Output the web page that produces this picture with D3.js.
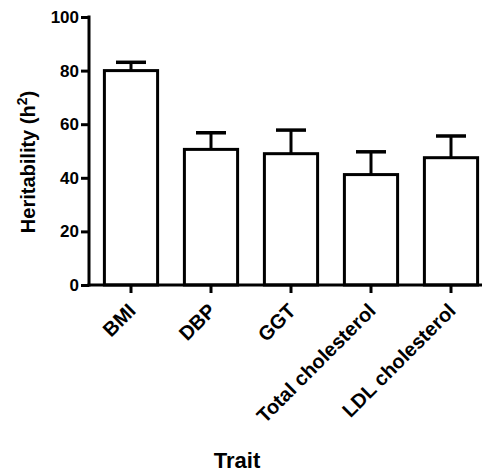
<!DOCTYPE html>
<html>
<head>
<meta charset="utf-8">
<script src="https://cdn.jsdelivr.net/npm/d3@7"></script>
<style>
  body { margin: 0; background: #fff; }
  text { font-family: Arial, "Liberation Sans", sans-serif; font-weight: bold; fill: #000; }
</style>
</head>
<body>
<div class="chart"></div>
<script>
let traits = ["BMI", "DBP", "GGT", "Total cholesterol", "LDL cholesterol"];
let heritability = [80, 50.6, 49, 41.2, 47.5];
let upperError = [83.1, 56.8, 57.8, 49.7, 55.6];
let yTicks = [0, 20, 40, 60, 80, 100];

let svgWidth = 482;
let svgHeight = 474;

let svg = d3.select(".chart")
  .append("svg")
  .attr("width", svgWidth)
  .attr("height", svgHeight);

let x = d3.scaleBand()
  .domain(traits)
  .range([91, 491])
  .paddingInner(0.335)
  .paddingOuter(0.1675);

let y = d3.scaleLinear()
  .domain([0, 100])
  .range([285, 17]);

let axisX = 89;

// bars
svg.selectAll("rect.bar")
  .data(traits)
  .enter().append("rect")
    .attr("class", "bar")
    .attr("x", d => x(d))
    .attr("y", (d, i) => y(heritability[i]))
    .attr("width", x.bandwidth())
    .attr("height", (d, i) => y(0) - y(heritability[i]))
    .attr("fill", "#fff")
    .attr("stroke", "#000")
    .attr("stroke-width", 3);

// error bars (upper only)
let capW = 30;
traits.forEach(function(t, i) {
  let cx = x(t) + x.bandwidth() / 2;
  svg.append("line")
    .attr("x1", cx).attr("x2", cx)
    .attr("y1", y(heritability[i])).attr("y2", y(upperError[i]))
    .attr("stroke", "#000").attr("stroke-width", 3);
  svg.append("line")
    .attr("x1", cx - capW / 2).attr("x2", cx + capW / 2)
    .attr("y1", y(upperError[i])).attr("y2", y(upperError[i]))
    .attr("stroke", "#000").attr("stroke-width", 3.5);
});

// x axis
let gx = svg.append("g")
  .attr("transform", `translate(0, ${y(0)})`)
  .call(d3.axisBottom(x).tickSize(8).tickSizeOuter(0));
gx.select(".domain").attr("d", `M${axisX - 1.5},0H${svgWidth}`);
gx.selectAll("line, path").attr("stroke", "#000").attr("stroke-width", 3);
gx.selectAll("text")
  .attr("x", 0).attr("y", 0).attr("dy", 0)
  .attr("transform", "translate(6,27) rotate(-45)")
  .style("text-anchor", "end")
  .style("font-size", "20px");

// y axis
let gy = svg.append("g")
  .attr("transform", `translate(${axisX}, 0)`)
  .call(d3.axisLeft(y).tickValues(yTicks).tickSize(8).tickSizeOuter(0).tickPadding(2));
gy.selectAll("line, path").attr("stroke", "#000").attr("stroke-width", 3);
gy.select(".domain").attr("d", `M0,${y(100) - 1.5}V${y(0) + 1.5}`);
gy.selectAll("text").style("font-size", "17px");

// axis titles
let yTitle = svg.append("text")
  .attr("transform", "translate(35, 162) rotate(-90)")
  .style("text-anchor", "middle")
  .style("font-size", "20px");
yTitle.append("tspan").text("Heritability (h");
yTitle.append("tspan").attr("dy", -8).style("font-size", "14px").text("2");
yTitle.append("tspan").attr("dy", 8).text(")");

svg.append("text")
  .attr("x", 237)
  .attr("y", 468)
  .style("text-anchor", "middle")
  .style("font-size", "22px")
  .text("Trait");
</script>
</body>
</html>
